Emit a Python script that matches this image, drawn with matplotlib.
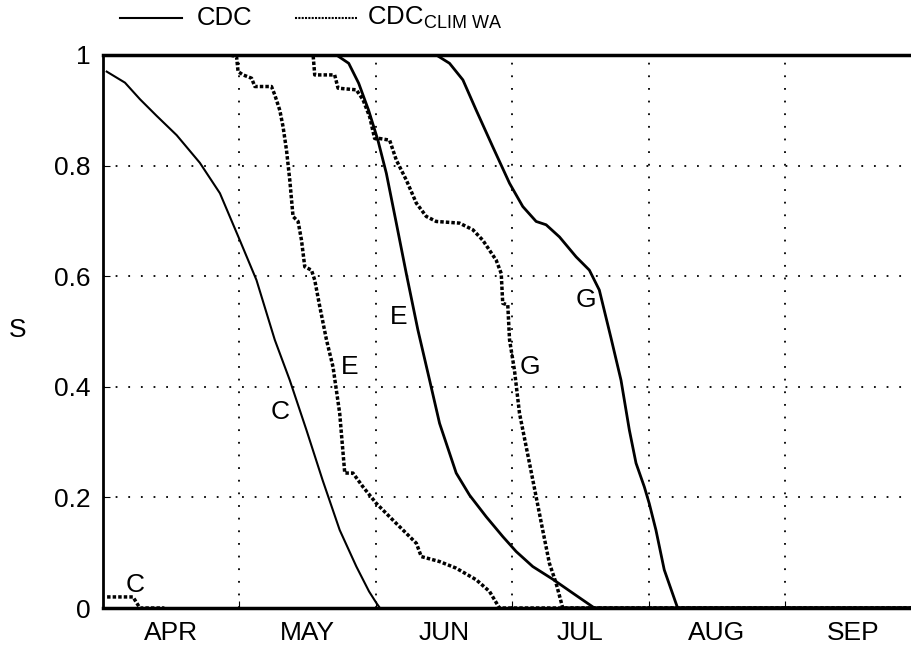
import numpy as np
import matplotlib.pyplot as plt
from matplotlib.lines import Line2D

plt.rcParams['font.family'] = ['Liberation Sans', 'DejaVu Sans']

# x en meses desde el 1 de abril (0 = APR, 1 = MAY, ...)
meses = ["APR", "MAY", "JUN", "JUL", "AUG", "SEP"]

# CDC (linea continua)
c_x = [0.027, 0.161, 0.271, 0.393, 0.54, 0.71, 0.857, 1.003, 1.125, 1.259, 1.369, 1.491, 1.61, 1.735, 1.857, 1.95, 2.004, 2.03]
c_y = [0.97, 0.95, 0.92, 0.89, 0.855, 0.805, 0.75, 0.665, 0.593, 0.485, 0.412, 0.322, 0.231, 0.141, 0.075, 0.03, 0.009, 0.0]

e_x = [0.0, 1.711, 1.801, 1.874, 1.947, 2.015, 2.077, 2.150, 2.223, 2.308, 2.394, 2.467, 2.589, 2.687, 2.809, 2.931, 3.029, 3.150, 3.297, 3.443, 3.602, 5.95]
e_y = [1.0, 1.0, 0.985, 0.949, 0.90, 0.846, 0.786, 0.696, 0.605, 0.503, 0.412, 0.334, 0.244, 0.204, 0.165, 0.129, 0.102, 0.075, 0.052, 0.027, 0.0, 0.0]

g_x = [0.0, 2.443, 2.54, 2.638, 2.736, 2.857, 2.980, 3.077, 3.175, 3.248, 3.346, 3.468, 3.565, 3.638, 3.724, 3.797, 3.858, 3.907, 3.968, 4.004, 4.053, 4.114, 4.212, 5.95]
g_y = [1.0, 1.0, 0.985, 0.955, 0.90, 0.834, 0.768, 0.726, 0.699, 0.693, 0.671, 0.635, 0.611, 0.575, 0.488, 0.412, 0.322, 0.262, 0.219, 0.189, 0.141, 0.069, 0.0, 0.0]

# CDC_CLIM WA (linea de puntos, escalonada)
cc_x = [0.03, 0.22, 0.27, 0.45]
cc_y = [0.02, 0.02, 0.0, 0.0]

ec_x = [0.0, 0.930, 0.979, 0.990, 1.027, 1.089, 1.113, 1.235, 1.259, 1.296, 1.320, 1.345, 1.369, 1.393, 1.430, 1.455, 1.479,
        1.528, 1.552, 1.589, 1.638, 1.686, 1.735, 1.772, 1.832, 1.906, 2.004, 2.125, 2.297, 2.333, 2.467, 2.589, 2.736,
        2.833, 2.894, 2.906, 5.95]
ec_y = [1.0, 1.0, 0.997, 0.97, 0.964, 0.958, 0.943, 0.943, 0.928, 0.90, 0.870, 0.828, 0.774, 0.708, 0.699, 0.665, 0.617,
        0.611, 0.593, 0.545, 0.485, 0.436, 0.352, 0.244, 0.244, 0.219, 0.189, 0.159, 0.117, 0.093, 0.084, 0.072, 0.051,
        0.030, 0.005, 0.0, 0.0]

gc_x = [0.0, 1.540, 1.552, 1.698, 1.723, 1.857, 1.906, 1.955, 1.991, 2.028, 2.101, 2.150, 2.223, 2.297, 2.370, 2.443, 2.613,
        2.711, 2.784, 2.882, 2.919, 2.930, 2.967, 2.980, 3.016, 3.053, 3.126, 3.175, 3.223, 3.272, 3.321, 3.370, 5.95]
gc_y = [1.0, 1.0, 0.964, 0.964, 0.940, 0.937, 0.919, 0.888, 0.849, 0.849, 0.846, 0.810, 0.774, 0.732, 0.708, 0.699, 0.696,
        0.684, 0.665, 0.629, 0.605, 0.551, 0.548, 0.485, 0.43, 0.352, 0.262, 0.201, 0.141, 0.081, 0.045, 0.0, 0.0]

fig = plt.figure(figsize=(9.12, 6.49), dpi=100)
ax = fig.add_axes([103 / 912, 1 - 608 / 649, 1 - 103 / 912, 553 / 649])

punteado = (0, (1, 0.6))
ax.plot(c_x, c_y, color='black', lw=1.5)
ax.plot(e_x, e_y, color='black', lw=2)
ax.plot(g_x, g_y, color='black', lw=2)
ax.plot(cc_x, cc_y, color='black', lw=2.5, ls=punteado)
ax.plot(ec_x, ec_y, color='black', lw=2.5, ls=punteado)
ax.plot(gc_x, gc_y, color='black', lw=2.5, ls=punteado)

# etiquetas de las curvas
fs = 19
ax.text(1.296, 0.355, "C", fontsize=fs, ha='center', va='center')
ax.text(1.808, 0.436, "E", fontsize=fs, ha='center', va='center')
ax.text(2.167, 0.527, "E", fontsize=fs, ha='center', va='center')
ax.text(3.126, 0.436, "G", fontsize=fs, ha='center', va='center')
ax.text(3.54, 0.557, "G", fontsize=fs, ha='center', va='center')
ax.text(0.234, 0.042, "C", fontsize=fs, ha='center', va='center')

ax.set_xlim(0, 5.93)
ax.set_ylim(0, 1)
ax.set_xticks(np.arange(1, 6), minor=False)
ax.set_xticklabels([])
ax.set_xticks(np.arange(0.5, 6), minor=True)
ax.set_xticklabels(meses, minor=True, fontsize=fs)
ax.tick_params(axis='x', which='minor', length=0, pad=9)
ax.tick_params(axis='x', which='major', direction='in', length=5)
ax.set_yticks([0, 0.2, 0.4, 0.6, 0.8, 1])
ax.set_yticklabels(["0", "0.2", "0.4", "0.6", "0.8", "1"], fontsize=fs)
ax.tick_params(axis='y', direction='in', length=5, pad=9)
ax.grid(True, which='major', color='black', ls=(0, (1, 6)), lw=1.3)

fig.text(18 / 912, 1 - 330 / 649, "S", fontsize=fs, ha='center', va='center')

ax.spines['right'].set_visible(False)
ax.spines['top'].set_linewidth(2.5)
ax.spines['bottom'].set_linewidth(2.5)
ax.spines['left'].set_linewidth(2)

# leyenda manual arriba
fig.add_artist(Line2D([120 / 912, 182 / 912], [1 - 18 / 649] * 2, color='black', lw=1.5))
fig.text(197 / 912, 1 - 18 / 649, "CDC", fontsize=18.5, va='center')
fig.add_artist(Line2D([295 / 912, 357 / 912], [1 - 18 / 649] * 2, color='black', lw=1.5, ls=(0, (1, 0.6))))
fig.text(367 / 912, 1 - 18 / 649, r"CDC$_{\mathregular{CLIM\ WA}}$", fontsize=18.5, va='center')

fig.savefig("out.png", dpi=100)
